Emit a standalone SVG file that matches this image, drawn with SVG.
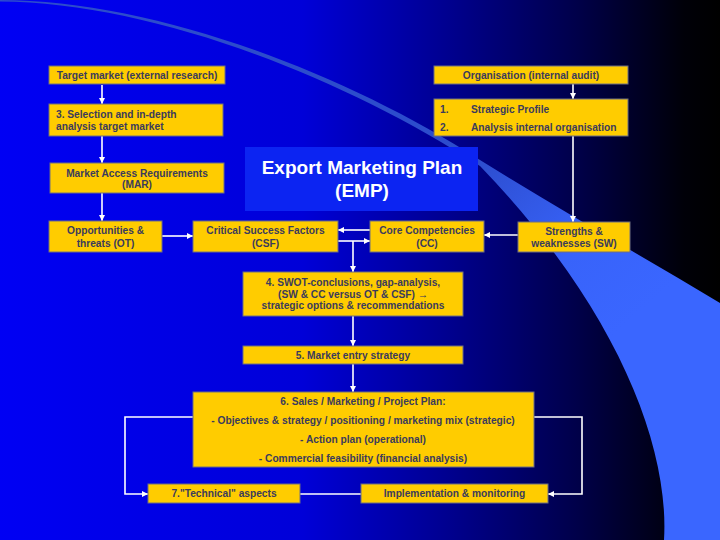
<svg xmlns="http://www.w3.org/2000/svg" width="720" height="540" viewBox="0 0 720 540">
<defs>
<linearGradient id="bg" x1="0" y1="0" x2="1" y2="0">
<stop offset="0" stop-color="#0000f4"/>
<stop offset="0.42" stop-color="#0000d8"/>
<stop offset="0.62" stop-color="#000090"/>
<stop offset="0.8" stop-color="#00004a"/>
<stop offset="0.95" stop-color="#000008"/>
<stop offset="1" stop-color="#000000"/>
</linearGradient>
<linearGradient id="band" gradientUnits="userSpaceOnUse" x1="470" y1="160" x2="620" y2="330">
<stop offset="0" stop-color="#2c4ccc"/>
<stop offset="0.6" stop-color="#3863fa"/>
<stop offset="1" stop-color="#3a66ff"/>
</linearGradient>
<marker id="ah" markerWidth="6" markerHeight="6" refX="6" refY="3" orient="auto" markerUnits="userSpaceOnUse">
<path d="M0,0 L6,3 L0,6 Z" fill="#ffffff"/>
</marker>
<style>
.box{fill:#ffcc00;stroke:#6e6e80;stroke-width:1}
.t{font-family:"Liberation Sans",Arial,sans-serif;font-weight:bold;font-size:10.2px;fill:#3b3b5c}
.c{text-anchor:middle}
.title{font-family:"Liberation Sans",Arial,sans-serif;font-weight:bold;font-size:19px;fill:#ffffff;text-anchor:middle}
.ln{fill:none;stroke:#ffffff;stroke-width:1.6}
.arr{marker-end:url(#ah)}
</style>
</defs>
<rect x="0" y="0" width="720" height="540" fill="url(#bg)"/>
<path d="M0,0 C150,0 340,70 480,160 C560,210 640,255 720,303 L720,540 L664,540 C670,440 610,300 480,166 C340,75 150,2.5 0,1.5 Z" fill="url(#band)"/>

<g id="emp">
<rect x="245" y="147" width="233" height="64" fill="#0c24f2"/>
<text class="title" x="362" y="174">Export Marketing Plan</text>
<text class="title" x="362" y="197">(EMP)</text>
</g>

<g id="connectors">
<path class="ln arr" d="M102,85 V104"/>
<path class="ln arr" d="M102,136 V163"/>
<path class="ln arr" d="M102,193 V221"/>
<path class="ln arr" d="M162,236 H193"/>
<path class="ln arr" d="M370,230 H338"/>
<path class="ln arr" d="M338,241 H370"/>
<path class="ln arr" d="M353,241 V272"/>
<path class="ln arr" d="M518,235 H484"/>
<path class="ln arr" d="M573,84 V99"/>
<path class="ln arr" d="M573,136 V222"/>
<path class="ln arr" d="M353,316 V346"/>
<path class="ln arr" d="M353,364 V392"/>
<path class="ln arr" d="M193,417 H125 V494 H148"/>
<path class="ln" d="M300,494 H361"/>
<path class="ln arr" d="M534,417 H582 V494 H548"/>
</g>

<g id="target">
<rect class="box" x="49" y="66" width="176" height="18"/>
<text class="t c" x="137" y="79">Target market (external research)</text>
</g>
<g id="selection">
<rect class="box" x="49" y="104" width="174" height="32"/>
<text class="t" x="56" y="118">3. Selection and in-depth</text>
<text class="t" x="56" y="130">analysis target market</text>
</g>
<g id="mar">
<rect class="box" x="50" y="163" width="174" height="30"/>
<text class="t c" x="137" y="177">Market Access Requirements</text>
<text class="t c" x="137" y="188">(MAR)</text>
</g>
<g id="ot">
<rect class="box" x="49" y="221" width="113" height="31"/>
<text class="t c" x="105.5" y="234">Opportunities &amp;</text>
<text class="t c" x="105.5" y="247">threats (OT)</text>
</g>
<g id="csf">
<rect class="box" x="193" y="221" width="145" height="31"/>
<text class="t c" x="265.5" y="234">Critical Success Factors</text>
<text class="t c" x="265.5" y="247">(CSF)</text>
</g>
<g id="cc">
<rect class="box" x="370" y="221" width="114" height="31"/>
<text class="t c" x="427" y="234">Core Competencies</text>
<text class="t c" x="427" y="247">(CC)</text>
</g>
<g id="sw">
<rect class="box" x="518" y="222" width="112" height="30"/>
<text class="t c" x="574" y="235">Strengths &amp;</text>
<text class="t c" x="574" y="247">weaknesses (SW)</text>
</g>
<g id="org">
<rect class="box" x="434" y="66" width="194" height="18"/>
<text class="t c" x="531" y="79">Organisation (internal audit)</text>
</g>
<g id="strategic">
<rect class="box" x="434" y="99" width="194" height="37"/>
<text class="t" x="440" y="113">1.</text>
<text class="t" x="471" y="113">Strategic Profile</text>
<text class="t" x="440" y="131">2.</text>
<text class="t" x="471" y="131">Analysis internal organisation</text>
</g>
<g id="swot">
<rect class="box" x="243" y="272" width="220" height="44"/>
<text class="t c" x="353" y="286">4. SWOT-conclusions, gap-analysis,</text>
<text class="t c" x="353" y="297.5">(SW &amp; CC versus OT &amp; CSF) →</text>
<text class="t c" x="353" y="309">strategic options &amp; recommendations</text>
</g>
<g id="entry">
<rect class="box" x="243" y="346" width="220" height="18"/>
<text class="t c" x="353" y="358.5">5. Market entry strategy</text>
</g>
<g id="plan">
<rect class="box" x="193" y="392" width="341" height="75"/>
<text class="t c" x="363" y="404.5">6. Sales / Marketing / Project Plan:</text>
<text class="t c" x="363" y="423.5">- Objectives &amp; strategy / positioning / marketing mix (strategic)</text>
<text class="t c" x="363" y="442.5">- Action plan (operational)</text>
<text class="t c" x="363" y="461.5">- Commercial feasibility (financial analysis)</text>
</g>
<g id="technical">
<rect class="box" x="148" y="484" width="152" height="19"/>
<text class="t c" x="224" y="497">7."Technical" aspects</text>
</g>
<g id="implementation">
<rect class="box" x="361" y="484" width="187" height="19"/>
<text class="t c" x="454.5" y="497">Implementation &amp; monitoring</text>
</g>
</svg>
